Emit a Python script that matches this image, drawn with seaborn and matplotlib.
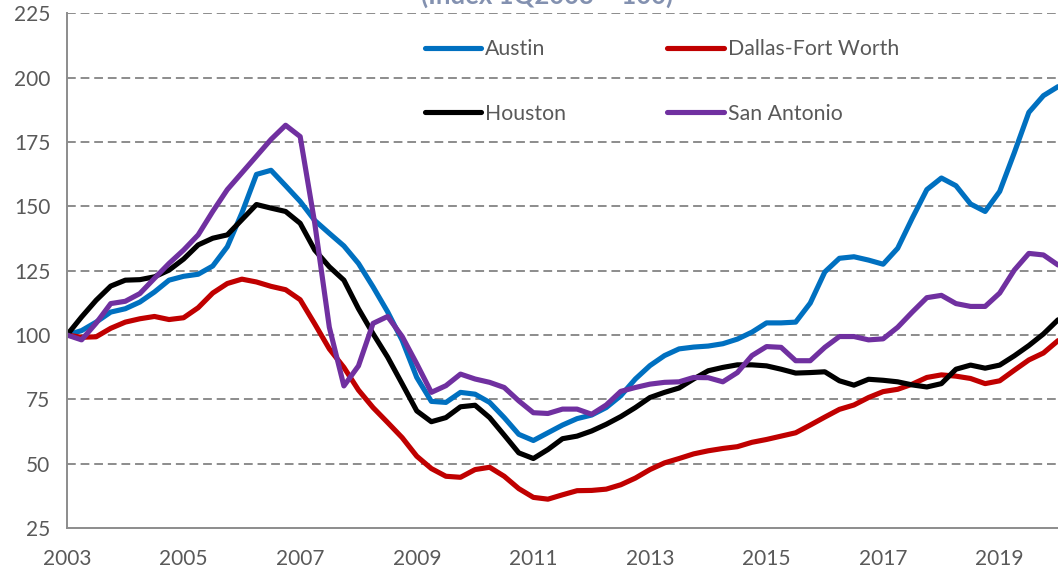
import numpy as np
import pandas as pd
import matplotlib
matplotlib.use('Agg')
import matplotlib.pyplot as plt
import seaborn as sns

# quarterly index values, 1Q2003 = 100
austin = [100, 101.7, 105, 108.9, 110.2, 112.8, 116.7, 121.3, 122.8, 123.6,
          126.8, 134.3, 147.4, 162.4, 164, 158, 151.9, 144.5, 139.5, 134.6,
          127.8, 118.7, 109, 97.9, 83.5, 74.2, 73.8, 77.7, 77, 73.8,
          67.9, 61.4, 59, 62, 65, 67.5, 68.9, 71.8, 76.4, 82.9,
          88.1, 92, 94.6, 95.3, 95.7, 96.6, 98.4, 101.1, 104.7, 104.7,
          105, 112.4, 124.5, 129.8, 130.4, 129.1, 127.5, 133.7, 145.4, 156.5,
          161, 158, 150.9, 148, 155.8, 170.8, 186.5, 193, 196.5]
dallas = [100, 99.1, 99.3, 102.6, 105, 106.3, 107.2, 106, 106.7, 110.6,
          116.3, 120, 121.7, 120.6, 118.9, 117.6, 113.7, 104.3, 94.6, 87.4,
          78.6, 71.8, 66, 60.1, 52.9, 48.1, 45.1, 44.7, 47.7, 48.6,
          45.1, 40.3, 36.9, 36.2, 37.9, 39.5, 39.6, 40.1, 41.8, 44.4,
          47.7, 50.3, 52, 53.8, 55, 55.9, 56.6, 58.3, 59.4, 60.7,
          62, 65, 68.1, 71.1, 72.8, 75.7, 78, 78.9, 80.9, 83.5,
          84.5, 84, 83.1, 81.1, 82.2, 86.3, 90.3, 93, 97.8]
houston = [100, 107, 113.5, 119, 121.3, 121.5, 122.6, 125.2, 129.5, 135,
           137.6, 138.9, 144.8, 150.7, 149.3, 148, 143.4, 133, 126.5, 121.3,
           110.2, 100.5, 91.4, 81, 70.5, 66.3, 67.9, 72.1, 72.7, 67.9,
           61.1, 54.2, 52, 55.5, 59.7, 60.7, 62.7, 65.3, 68.3, 71.8,
           75.7, 77.7, 79.4, 82.9, 86.1, 87.4, 88.4, 88.4, 88, 86.7,
           85.2, 85.4, 85.7, 82.2, 80.5, 82.8, 82.4, 81.8, 80.6, 79.8,
           81.1, 86.7, 88.3, 87.1, 88.3, 91.9, 95.9, 100.4, 105.9]
san_antonio = [100, 98.1, 104.6, 112.2, 113.1, 116.1, 122, 127.8, 133, 138.9,
               148, 156.5, 163, 169.5, 176, 181.5, 177.1, 143.4, 103, 80.2,
               88, 104.5, 107.2, 99.4, 88.8, 77.7, 80.3, 84.8, 82.9, 81.6,
               79.6, 74.4, 69.8, 69.5, 71.2, 71.2, 69.2, 72.8, 78.1, 79.6,
               80.9, 81.6, 81.8, 83.5, 83.4, 81.8, 85.4, 92, 95.5, 95.2,
               90, 90, 95.2, 99.4, 99.4, 98.1, 98.5, 103, 108.9, 114.5,
               115.4, 112.2, 111.1, 111.1, 116.3, 125.2, 131.7, 131.1, 127.2]

metros = ['Austin', 'Dallas-Fort Worth', 'Houston', 'San Antonio']
colors = ['#0070C0', '#C00000', '#000000', '#7030A0']
quarters = 2003 + np.arange(len(austin)) / 4

df = pd.DataFrame({
    'year': np.tile(quarters, 4),
    'index': austin + dallas + houston + san_antonio,
    'metro': np.repeat(metros, len(quarters)),
})

sns.set_style('white')
plt.rcParams['font.family'] = ['Lato', 'DejaVu Sans']

fig = plt.figure(figsize=(10.58, 5.73), dpi=100)
ax = fig.add_axes([67 / 1058, 45 / 573, 991 / 1058, 514.7 / 573])

sns.lineplot(data=df, x='year', y='index', hue='metro', hue_order=metros,
             palette=dict(zip(metros, colors)), linewidth=3.7, legend=False,
             solid_joinstyle='round', solid_capstyle='round', ax=ax)

ax.set_xlim(2003, 2020)
ax.set_ylim(25, 225)
ax.set_yticks(np.arange(25, 226, 25))
ax.set_xticks(np.arange(2003, 2020, 2))
ax.set_xticks(np.arange(2004, 2021, 2), minor=True)
ax.set_xlabel('')
ax.set_ylabel('')

for y in np.arange(50, 226, 25):
    ax.axhline(y, color='#8c8c8c', lw=1.4, ls=(0, (4.5, 2.5)), zorder=0)

gray = '#8c8c8c'
for side in ['top', 'right']:
    ax.spines[side].set_visible(False)
for side in ['left', 'bottom']:
    ax.spines[side].set_color(gray)
    ax.spines[side].set_linewidth(1.4)
ax.tick_params(axis='both', which='both', direction='out', color=gray,
               width=1.2, labelsize=15, labelcolor='#595959')
ax.tick_params(axis='y', length=6, pad=6)
ax.tick_params(axis='x', which='both', length=5, pad=10)

# legend fills column by column, so order it to read row by row
lines = ax.lines[:4]
order = [0, 2, 1, 3]
ax.legend([lines[i] for i in order], [metros[i] for i in order], ncol=2,
          frameon=False, loc='upper left', bbox_to_anchor=(0.361, 0.950),
          borderaxespad=0, borderpad=0, fontsize=15.3, labelcolor='#595959',
          handlelength=2.65, handletextpad=0.2, columnspacing=4.75,
          labelspacing=2.1)

fig.text(0.517, 569 / 573, '(Index 1Q2003 = 100)', ha='center', va='baseline',
         fontsize=18.5, fontweight='bold', color='#8391b0')

fig.savefig('out.png', dpi=100)
